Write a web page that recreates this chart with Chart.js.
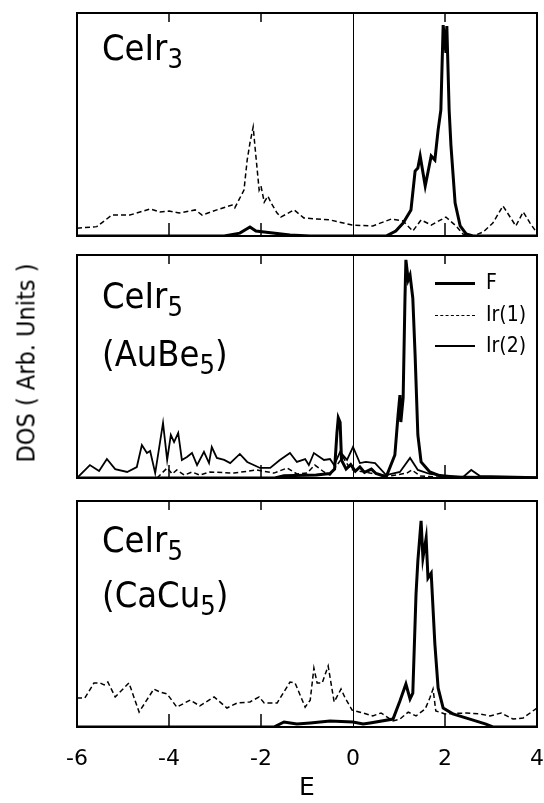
<!DOCTYPE html>
<html>
<head>
<meta charset="utf-8">
<script src="https://cdn.jsdelivr.net/npm/chart.js@4.4.1/dist/chart.umd.min.js"></script>
<style>
  body { margin: 0; background: #fff; }
  #wrap { position: relative; width: 544px; height: 803px; overflow: hidden; background: #fff;
          font-family: "DejaVu Sans", sans-serif; font-stretch: condensed; color: #000; }
  canvas { position: absolute; left: 0; }
  .lbl { position: absolute; left: 102px; font-size: 36px; line-height: 36px; white-space: nowrap; }
  .sub { font-size: 27px; position: relative; top: 8px; }
  #ytitle { position: absolute; left: 26px; top: 363px; font-size: 25px; white-space: nowrap;
            transform: translate(-50%, -50%) rotate(-90deg); }
  .leg { position: absolute; left: 435px; font-size: 21px; line-height: 21px; white-space: nowrap; }
  .leg i { display: inline-block; width: 40px; vertical-align: middle; margin-right: 11px; }
</style>
</head>
<body>
<div id="wrap">
  <canvas id="p1" width="544" height="240" style="top:0"></canvas>
  <canvas id="p2" width="544" height="250" style="top:240px"></canvas>
  <canvas id="p3" width="544" height="323" style="top:480px"></canvas>

  <div class="lbl" style="top:30px">CeIr<span class="sub">3</span></div>
  <div class="lbl" style="top:278px">CeIr<span class="sub">5</span></div>
  <div class="lbl" style="top:336px">(AuBe<span class="sub">5</span>)</div>
  <div class="lbl" style="top:522px">CeIr<span class="sub">5</span></div>
  <div class="lbl" style="top:577px">(CaCu<span class="sub">5</span>)</div>

  <div id="ytitle">DOS ( Arb. Units )</div>

  <div class="leg" style="top:272px"><i style="border-top:3px solid #000"></i>F</div>
  <div class="leg" style="top:304px"><i style="border-top:1.5px dashed #000"></i>Ir(1)</div>
  <div class="leg" style="top:335px"><i style="border-top:2px solid #000"></i>Ir(2)</div>
</div>

<script>
// #region data (energy E, DOS in % of panel height)
const xTicks = [-6, -4, -2, 0, 2, 4];
const frameTicks = [-4, -2, 2];

// CeIr3
const ceir3FE   = [-6, -2.80, -2.46, -2.24, -2.11, -1.93, -1.37, -0.93, 0.72, 0.93, 1.09, 1.26, 1.35, 1.41, 1.46, 1.57, 1.70, 1.78, 1.85, 1.91, 1.96, 2.02, 2.04, 2.09, 2.13, 2.22, 2.33, 2.46, 2.61, 4];
const ceir3FDos = [0, 0, 1.3, 4.0, 2.2, 1.8, 0.4, 0, 0, 2.2, 5.8, 11.7, 29.1, 30.5, 35.9, 22.4, 35.9, 34.1, 47.5, 56.5, 94.6, 82.1, 94.2, 56.5, 40.4, 14.8, 4.5, 0.9, 0, 0];
const ceir3IrE   = [-6.0, -5.57, -5.24, -4.85, -4.41, -4.20, -4.00, -3.78, -3.43, -3.28, -2.96, -2.63, -2.57, -2.37, -2.30, -2.24, -2.17, -2.13, -2.04, -2.00, -1.93, -1.85, -1.78, -1.65, -1.57, -1.28, -1.07, -0.78, -0.50, -0.02, 0.43, 0.83, 1.09, 1.30, 1.48, 1.70, 2.02, 2.24, 2.39, 2.61, 2.83, 3.04, 3.26, 3.54, 3.70, 3.85, 4.0];
const ceir3IrDos = [3.5, 4.2, 9.4, 9.4, 12.1, 10.8, 11.2, 10.3, 11.7, 9.4, 11.7, 13.9, 12.6, 20.6, 34.1, 41.7, 48.9, 39.9, 20.6, 22.4, 15.2, 17.9, 14.8, 10.3, 8.5, 11.7, 8.1, 7.6, 7.2, 4.9, 4.5, 7.6, 6.7, 2.2, 7.2, 4.9, 8.5, 4.5, 0.9, 0, 1.8, 5.8, 13.5, 4.5, 10.8, 5.8, 1.3];

// CeIr5 (AuBe5)
const aubeFE   = [-6, -1.7, -1.5, -0.8, -0.5, -0.4, -0.35, -0.32, -0.28, -0.25, -0.15, -0.05, 0.05, 0.15, 0.25, 0.4, 0.5, 0.65, 0.72, 0.91, 0.98, 1.02, 1.04, 1.09, 1.13, 1.15, 1.20, 1.24, 1.30, 1.35, 1.41, 1.48, 1.67, 1.96, 4];
const aubeFDos = [0, 0, 1, 1.3, 2, 4, 20, 27, 25, 8, 4, 6, 3, 5, 2.5, 4, 2, 1, 0.4, 10.3, 28.3, 37.2, 25.1, 35.9, 80.7, 97.8, 88.8, 91.0, 80.7, 55.2, 19.3, 7.2, 2.7, 0.4, 0];
const aubeIr1E   = [-6, -4.26, -4.04, -3.93, -3.83, -3.67, -3.50, -3.33, -3.11, -2.59, -2.09, -1.72, -1.43, -1.22, -1.00, -0.83, -0.63, -0.50, -0.35, -0.22, -0.07, 0, 0.37, 0.80, 1.17, 1.28, 1.46, 2.1, 4];
const aubeIr1Dos = [0, 0, 4.5, 1.8, 3.6, 1.3, 2.7, 1.3, 2.7, 2.2, 3.6, 2.2, 4.5, 1.8, 2.2, 5.8, 2.7, 1.3, 5.8, 9.4, 4.5, 3.6, 2.2, 0.9, 2.2, 3.6, 0.9, 0, 0];
const aubeIr2E   = [-6.00, -5.72, -5.52, -5.35, -5.17, -4.91, -4.70, -4.59, -4.48, -4.41, -4.30, -4.13, -4.04, -3.96, -3.89, -3.80, -3.72, -3.61, -3.50, -3.39, -3.24, -3.13, -3.07, -2.96, -2.80, -2.67, -2.46, -2.30, -2.02, -1.80, -1.59, -1.37, -1.22, -1.04, -0.96, -0.85, -0.63, -0.50, -0.41, -0.28, -0.13, 0, 0.15, 0.28, 0.48, 0.72, 1.02, 1.24, 1.41, 1.67, 2.11, 2.39, 2.57, 2.76, 4.0];
const aubeIr2Dos = [0, 5.8, 3.1, 8.5, 4.0, 2.7, 4.9, 14.8, 11.2, 12.1, 2.2, 24.7, 8.1, 19.3, 16.1, 20.2, 8.1, 9.4, 11.2, 5.8, 11.7, 6.7, 13.9, 9.0, 8.1, 6.7, 10.8, 7.2, 4.5, 4.5, 8.1, 11.2, 7.2, 8.5, 5.8, 11.2, 8.1, 8.5, 5.8, 11.7, 8.1, 13.9, 6.7, 7.2, 6.7, 1.3, 2.7, 9.0, 3.6, 1.8, 0.9, 0.4, 3.6, 0.9, 0.4];

// CeIr5 (CaCu5)
const cacuFE   = [-6, -1.72, -1.50, -1.22, -0.93, -0.50, 0, 0.22, 0.37, 0.87, 1.02, 1.15, 1.24, 1.30, 1.37, 1.41, 1.48, 1.52, 1.59, 1.63, 1.70, 1.78, 1.85, 1.96, 2.17, 2.54, 2.89, 3.04, 4];
const cacuFDos = [0, 0, 2.2, 1.3, 1.8, 2.7, 2.2, 1.3, 1.8, 3.5, 11.5, 19.0, 12.4, 15.0, 58.8, 73.5, 91.2, 74.8, 83.6, 65.9, 68.1, 36.7, 17.3, 8.4, 5.8, 3.5, 1.3, 0, 0];
const cacuIrE   = [-6.00, -5.83, -5.63, -5.50, -5.41, -5.33, -5.17, -4.87, -4.65, -4.33, -4.20, -4.04, -3.83, -3.54, -3.33, -3.02, -2.74, -2.52, -2.24, -2.04, -1.93, -1.65, -1.37, -1.26, -1.04, -0.93, -0.85, -0.78, -0.67, -0.54, -0.41, -0.26, -0.17, -0.02, 0.22, 0.43, 0.61, 0.87, 1.02, 1.20, 1.37, 1.57, 1.67, 1.74, 1.80, 2.00, 2.46, 2.76, 2.98, 3.22, 3.48, 3.70, 4.00];
const cacuIrDos = [12.8, 12.8, 19.5, 19.5, 18.6, 19.9, 13.3, 19.5, 6.6, 16.8, 15.5, 14.6, 8.8, 11.9, 9.3, 13.3, 8.4, 10.6, 11.1, 13.3, 10.6, 10.6, 19.9, 19.5, 8.8, 11.9, 26.1, 19.5, 19.5, 27.0, 11.1, 16.8, 12.8, 7.5, 6.2, 4.9, 6.2, 2.7, 3.5, 6.6, 4.9, 8.0, 12.8, 16.8, 7.1, 5.8, 6.2, 5.8, 4.9, 6.2, 3.5, 4.0, 8.4];
// #endregion

// #region helpers
const FONT = '"DejaVu Sans", sans-serif';

function series(es, ds, style) {
    return Object.assign({
        data: es.map((e, i) => ({ x: e, y: ds[i] })),
        borderColor: '#000',
        pointRadius: 0,
        tension: 0,
        fill: false
    }, style);
}
const F_STYLE   = { borderWidth: 3 };
const IR1_STYLE = { borderWidth: 1.5, borderDash: [5, 3] };
const IR2_STYLE = { borderWidth: 1.8 };

// box around the plot plus the short inner ticks
const framePlugin = {
    id: 'frame',
    afterDraw(chart) {
        const { ctx, chartArea: a, scales: { x } } = chart;
        ctx.save();
        ctx.strokeStyle = '#000';
        ctx.lineWidth = 2;
        ctx.strokeRect(a.left, a.top, a.right - a.left, a.bottom - a.top);
        ctx.lineWidth = 1.5;
        frameTicks.forEach(v => {
            const px = x.getPixelForValue(v);
            ctx.beginPath();
            ctx.moveTo(px, a.top); ctx.lineTo(px, a.top + 9);
            ctx.moveTo(px, a.bottom); ctx.lineTo(px, a.bottom - 13);
            ctx.stroke();
        });
        ctx.restore();
    }
};

function makePanel(id, datasets, pad, showAxis) {
    return new Chart(document.getElementById(id), {
        type: 'line',
        data: { datasets },
        plugins: [framePlugin],
        options: {
            responsive: false,
            animation: false,
            events: [],
            layout: { padding: pad },
            plugins: { legend: { display: false }, tooltip: { enabled: false } },
            scales: {
                x: {
                    type: 'linear', min: -6, max: 4,
                    afterBuildTicks: s => { s.ticks = xTicks.map(v => ({ value: v })); },
                    ticks: { display: showAxis, color: '#000', font: { family: FONT, size: 22 }, padding: 19, maxRotation: 0, autoSkip: false },
                    grid: { drawTicks: false, lineWidth: 1, color: c => (c.tick && c.tick.value === 0 ? '#000' : 'rgba(0,0,0,0)') },
                    border: { display: false },
                    title: { display: showAxis, text: 'E', color: '#000', font: { family: FONT, size: 25 }, padding: { top: 0, bottom: 0 } },
                    afterFit: s => {
                        if (!showAxis) return;
                        s.height = 76;
                        s.paddingLeft = 0;
                        s.paddingRight = 0;
                    }
                },
                y: { type: 'linear', min: 0, max: 100, display: false }
            }
        }
    });
}
// #endregion

// #region panels
makePanel('p1', [
    series(ceir3IrE, ceir3IrDos, IR1_STYLE),
    series(ceir3FE, ceir3FDos, F_STYLE)
], { top: 13, bottom: 4, left: 77, right: 7 }, false);

makePanel('p2', [
    series(aubeIr1E, aubeIr1Dos, IR1_STYLE),
    series(aubeIr2E, aubeIr2Dos, IR2_STYLE),
    series(aubeFE, aubeFDos, F_STYLE)
], { top: 15, bottom: 12, left: 77, right: 7 }, false);

makePanel('p3', [
    series(cacuIrE, cacuIrDos, IR1_STYLE),
    series(cacuFE, cacuFDos, F_STYLE)
], { top: 21, bottom: 0, left: 77, right: 7 }, true);
// #endregion
</script>
</body>
</html>
